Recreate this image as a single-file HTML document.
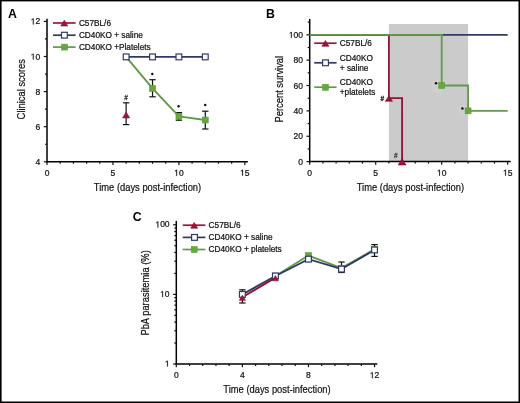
<!DOCTYPE html>
<html><head><meta charset="utf-8"><style>
html,body{margin:0;padding:0;background:#000;}
svg{display:block;}
text{font-family:"Liberation Sans",sans-serif;}
</style></head><body>
<svg style="will-change:transform" width="520" height="403" viewBox="0 0 520 403">
<rect x="0" y="0" width="520" height="403" fill="#000"/>
<rect x="1.6" y="1.4" width="516.9" height="400.1" fill="#fff"/>
<text x="8.1" y="18.1" font-size="12.3" font-weight="bold" fill="#000">A</text>
<line x1="47.00" y1="18.80" x2="47.00" y2="162.50" stroke="#000" stroke-width="1.5" stroke-linecap="butt"/>
<line x1="46.30" y1="161.80" x2="247.85" y2="161.80" stroke="#000" stroke-width="1.5" stroke-linecap="butt"/>
<line x1="43.80" y1="161.80" x2="47.00" y2="161.80" stroke="#111" stroke-width="1.2" stroke-linecap="butt"/>
<line x1="45.00" y1="144.25" x2="47.00" y2="144.25" stroke="#111" stroke-width="1.2" stroke-linecap="butt"/>
<line x1="43.80" y1="126.70" x2="47.00" y2="126.70" stroke="#111" stroke-width="1.2" stroke-linecap="butt"/>
<line x1="45.00" y1="109.15" x2="47.00" y2="109.15" stroke="#111" stroke-width="1.2" stroke-linecap="butt"/>
<line x1="43.80" y1="91.60" x2="47.00" y2="91.60" stroke="#111" stroke-width="1.2" stroke-linecap="butt"/>
<line x1="45.00" y1="74.05" x2="47.00" y2="74.05" stroke="#111" stroke-width="1.2" stroke-linecap="butt"/>
<line x1="43.80" y1="56.50" x2="47.00" y2="56.50" stroke="#111" stroke-width="1.2" stroke-linecap="butt"/>
<line x1="45.00" y1="38.95" x2="47.00" y2="38.95" stroke="#111" stroke-width="1.2" stroke-linecap="butt"/>
<line x1="43.80" y1="21.40" x2="47.00" y2="21.40" stroke="#111" stroke-width="1.2" stroke-linecap="butt"/>
<text x="35.473" y="164.80" font-size="8.5" fill="#111" stroke="#111" stroke-width="0.22">4</text>
<text x="35.473" y="129.70" font-size="8.5" fill="#111" stroke="#111" stroke-width="0.22">6</text>
<text x="35.473" y="94.60" font-size="8.5" fill="#111" stroke="#111" stroke-width="0.22">8</text>
<path d="M515 0L515 1237L197 1010L197 1180L530 1409L696 1409L696 0Z" transform="translate(30.745,59.500) scale(0.004150,-0.004150)" fill="#111" stroke="#111" stroke-width="53.0"/>
<text x="35.473" y="59.50" font-size="8.5" fill="#111" stroke="#111" stroke-width="0.22">0</text>
<path d="M515 0L515 1237L197 1010L197 1180L530 1409L696 1409L696 0Z" transform="translate(30.745,24.400) scale(0.004150,-0.004150)" fill="#111" stroke="#111" stroke-width="53.0"/>
<text x="35.473" y="24.40" font-size="8.5" fill="#111" stroke="#111" stroke-width="0.22">2</text>
<line x1="47.00" y1="161.80" x2="47.00" y2="165.00" stroke="#111" stroke-width="1.2" stroke-linecap="butt"/>
<line x1="60.19" y1="161.80" x2="60.19" y2="163.80" stroke="#111" stroke-width="1.2" stroke-linecap="butt"/>
<line x1="73.38" y1="161.80" x2="73.38" y2="163.80" stroke="#111" stroke-width="1.2" stroke-linecap="butt"/>
<line x1="86.57" y1="161.80" x2="86.57" y2="163.80" stroke="#111" stroke-width="1.2" stroke-linecap="butt"/>
<line x1="99.76" y1="161.80" x2="99.76" y2="163.80" stroke="#111" stroke-width="1.2" stroke-linecap="butt"/>
<line x1="112.95" y1="161.80" x2="112.95" y2="165.00" stroke="#111" stroke-width="1.2" stroke-linecap="butt"/>
<line x1="126.14" y1="161.80" x2="126.14" y2="163.80" stroke="#111" stroke-width="1.2" stroke-linecap="butt"/>
<line x1="139.33" y1="161.80" x2="139.33" y2="163.80" stroke="#111" stroke-width="1.2" stroke-linecap="butt"/>
<line x1="152.52" y1="161.80" x2="152.52" y2="163.80" stroke="#111" stroke-width="1.2" stroke-linecap="butt"/>
<line x1="165.71" y1="161.80" x2="165.71" y2="163.80" stroke="#111" stroke-width="1.2" stroke-linecap="butt"/>
<line x1="178.90" y1="161.80" x2="178.90" y2="165.00" stroke="#111" stroke-width="1.2" stroke-linecap="butt"/>
<line x1="192.09" y1="161.80" x2="192.09" y2="163.80" stroke="#111" stroke-width="1.2" stroke-linecap="butt"/>
<line x1="205.28" y1="161.80" x2="205.28" y2="163.80" stroke="#111" stroke-width="1.2" stroke-linecap="butt"/>
<line x1="218.47" y1="161.80" x2="218.47" y2="163.80" stroke="#111" stroke-width="1.2" stroke-linecap="butt"/>
<line x1="231.66" y1="161.80" x2="231.66" y2="163.80" stroke="#111" stroke-width="1.2" stroke-linecap="butt"/>
<line x1="244.85" y1="161.80" x2="244.85" y2="165.00" stroke="#111" stroke-width="1.2" stroke-linecap="butt"/>
<text x="44.636" y="175.70" font-size="8.5" fill="#111" stroke="#111" stroke-width="0.22">0</text>
<text x="110.586" y="175.70" font-size="8.5" fill="#111" stroke="#111" stroke-width="0.22">5</text>
<path d="M515 0L515 1237L197 1010L197 1180L530 1409L696 1409L696 0Z" transform="translate(174.173,175.700) scale(0.004150,-0.004150)" fill="#111" stroke="#111" stroke-width="53.0"/>
<text x="178.900" y="175.70" font-size="8.5" fill="#111" stroke="#111" stroke-width="0.22">0</text>
<path d="M515 0L515 1237L197 1010L197 1180L530 1409L696 1409L696 0Z" transform="translate(240.123,175.700) scale(0.004150,-0.004150)" fill="#111" stroke="#111" stroke-width="53.0"/>
<text x="244.850" y="175.70" font-size="8.5" fill="#111" stroke="#111" stroke-width="0.22">5</text>
<text transform="translate(147.50,190.60) scale(0.795,1)" x="0" y="0" font-size="11.8" text-anchor="middle" fill="#111" stroke="#111" stroke-width="0.22">Time (days post-infection)</text>
<text transform="translate(24.60,89.20) rotate(-90) scale(0.795,1)" x="0" y="0" font-size="11.8" text-anchor="middle" fill="#111" stroke="#111" stroke-width="0.22">Clinical scores</text>
<line x1="53.00" y1="23.00" x2="75.60" y2="23.00" stroke="#a3133a" stroke-width="1.7" stroke-linecap="butt"/>
<polygon points="60.80,26.00 67.80,26.00 64.30,20.20" fill="#a3133a" stroke="#7a0e2a" stroke-width="0.6"/>
<text x="78.90" y="25.50" font-size="8.25" text-anchor="start" fill="#111"  stroke="#111" stroke-width="0.22">C57BL/6</text>
<line x1="53.00" y1="35.20" x2="75.60" y2="35.20" stroke="#303a68" stroke-width="1.7" stroke-linecap="butt"/>
<rect x="61.50" y="32.30" width="5.80" height="5.80" fill="#fff" stroke="#303a68" stroke-width="1.2"/>
<text x="78.90" y="37.70" font-size="8.25" text-anchor="start" fill="#111"  stroke="#111" stroke-width="0.22">CD40KO + saline</text>
<line x1="53.00" y1="47.10" x2="75.60" y2="47.10" stroke="#62994a" stroke-width="1.7" stroke-linecap="butt"/>
<rect x="61.65" y="44.15" width="5.90" height="5.90" fill="#66a83e" stroke="#5a9a35" stroke-width="0.6"/>
<text x="78.90" y="49.60" font-size="8.25" text-anchor="start" fill="#111"  stroke="#111" stroke-width="0.22">CD40KO +Platelets</text>
<line x1="152.52" y1="79.70" x2="152.52" y2="96.80" stroke="#111" stroke-width="1.2" stroke-linecap="butt"/>
<line x1="149.32" y1="79.70" x2="155.72" y2="79.70" stroke="#111" stroke-width="1.2" stroke-linecap="butt"/>
<line x1="149.32" y1="96.80" x2="155.72" y2="96.80" stroke="#111" stroke-width="1.2" stroke-linecap="butt"/>
<line x1="178.90" y1="112.60" x2="178.90" y2="120.20" stroke="#111" stroke-width="1.2" stroke-linecap="butt"/>
<line x1="175.70" y1="112.60" x2="182.10" y2="112.60" stroke="#111" stroke-width="1.2" stroke-linecap="butt"/>
<line x1="175.70" y1="120.20" x2="182.10" y2="120.20" stroke="#111" stroke-width="1.2" stroke-linecap="butt"/>
<line x1="205.28" y1="111.20" x2="205.28" y2="129.00" stroke="#111" stroke-width="1.2" stroke-linecap="butt"/>
<line x1="202.08" y1="111.20" x2="208.48" y2="111.20" stroke="#111" stroke-width="1.2" stroke-linecap="butt"/>
<line x1="202.08" y1="129.00" x2="208.48" y2="129.00" stroke="#111" stroke-width="1.2" stroke-linecap="butt"/>
<line x1="126.14" y1="102.80" x2="126.14" y2="124.60" stroke="#111" stroke-width="1.2" stroke-linecap="butt"/>
<line x1="122.94" y1="102.80" x2="129.34" y2="102.80" stroke="#111" stroke-width="1.2" stroke-linecap="butt"/>
<line x1="122.94" y1="124.60" x2="129.34" y2="124.60" stroke="#111" stroke-width="1.2" stroke-linecap="butt"/>
<polyline points="126.14,56.85 152.52,88.44 178.90,116.35 205.28,120.03" fill="none" stroke="#62994a" stroke-width="1.9" stroke-linejoin="miter"/>
<rect x="149.57" y="85.49" width="5.90" height="5.90" fill="#66a83e" stroke="#5a9a35" stroke-width="0.6"/>
<rect x="175.95" y="113.40" width="5.90" height="5.90" fill="#66a83e" stroke="#5a9a35" stroke-width="0.6"/>
<rect x="202.33" y="117.08" width="5.90" height="5.90" fill="#66a83e" stroke="#5a9a35" stroke-width="0.6"/>
<line x1="126.14" y1="56.90" x2="205.28" y2="56.90" stroke="#303a68" stroke-width="1.8" stroke-linecap="butt"/>
<rect x="123.24" y="54.00" width="5.80" height="5.80" fill="#fff" stroke="#303a68" stroke-width="1.2"/>
<rect x="149.62" y="54.00" width="5.80" height="5.80" fill="#fff" stroke="#303a68" stroke-width="1.2"/>
<rect x="176.00" y="54.00" width="5.80" height="5.80" fill="#fff" stroke="#303a68" stroke-width="1.2"/>
<rect x="202.38" y="54.00" width="5.80" height="5.80" fill="#fff" stroke="#303a68" stroke-width="1.2"/>
<polygon points="122.64,117.90 129.64,117.90 126.14,112.10" fill="#a3133a" stroke="#7a0e2a" stroke-width="0.6"/>
<text x="126.14" y="100.20" font-size="6.5" text-anchor="middle" fill="#333" stroke="#333" stroke-width="0.3">#</text>
<circle cx="152.3" cy="73.9" r="1.25" fill="#111"/>
<circle cx="178.6" cy="106.2" r="1.25" fill="#111"/>
<circle cx="205.2" cy="105.0" r="1.25" fill="#111"/>
<rect x="388.90" y="24" width="79.20" height="137.60" fill="#cbcbcb"/>
<text x="266.0" y="18.2" font-size="12.3" font-weight="bold" fill="#000">B</text>
<circle cx="437.5" cy="87" r="7" fill="#fff" opacity="0.07"/>
<circle cx="463" cy="110.5" r="6" fill="#fff" opacity="0.07"/>
<line x1="309.70" y1="18.90" x2="309.70" y2="162.30" stroke="#000" stroke-width="1.5" stroke-linecap="butt"/>
<line x1="309.00" y1="161.60" x2="510.70" y2="161.60" stroke="#000" stroke-width="1.5" stroke-linecap="butt"/>
<line x1="306.50" y1="161.60" x2="309.70" y2="161.60" stroke="#111" stroke-width="1.2" stroke-linecap="butt"/>
<line x1="307.70" y1="148.92" x2="309.70" y2="148.92" stroke="#111" stroke-width="1.2" stroke-linecap="butt"/>
<line x1="306.50" y1="136.24" x2="309.70" y2="136.24" stroke="#111" stroke-width="1.2" stroke-linecap="butt"/>
<line x1="307.70" y1="123.56" x2="309.70" y2="123.56" stroke="#111" stroke-width="1.2" stroke-linecap="butt"/>
<line x1="306.50" y1="110.88" x2="309.70" y2="110.88" stroke="#111" stroke-width="1.2" stroke-linecap="butt"/>
<line x1="307.70" y1="98.20" x2="309.70" y2="98.20" stroke="#111" stroke-width="1.2" stroke-linecap="butt"/>
<line x1="306.50" y1="85.52" x2="309.70" y2="85.52" stroke="#111" stroke-width="1.2" stroke-linecap="butt"/>
<line x1="307.70" y1="72.84" x2="309.70" y2="72.84" stroke="#111" stroke-width="1.2" stroke-linecap="butt"/>
<line x1="306.50" y1="60.16" x2="309.70" y2="60.16" stroke="#111" stroke-width="1.2" stroke-linecap="butt"/>
<line x1="307.70" y1="47.48" x2="309.70" y2="47.48" stroke="#111" stroke-width="1.2" stroke-linecap="butt"/>
<line x1="306.50" y1="34.80" x2="309.70" y2="34.80" stroke="#111" stroke-width="1.2" stroke-linecap="butt"/>
<line x1="307.70" y1="22.12" x2="309.70" y2="22.12" stroke="#111" stroke-width="1.2" stroke-linecap="butt"/>
<text x="298.273" y="164.60" font-size="8.5" fill="#111" stroke="#111" stroke-width="0.22">0</text>
<text x="293.545" y="139.24" font-size="8.5" fill="#111" stroke="#111" stroke-width="0.22">2</text>
<text x="298.273" y="139.24" font-size="8.5" fill="#111" stroke="#111" stroke-width="0.22">0</text>
<text x="293.545" y="113.88" font-size="8.5" fill="#111" stroke="#111" stroke-width="0.22">4</text>
<text x="298.273" y="113.88" font-size="8.5" fill="#111" stroke="#111" stroke-width="0.22">0</text>
<text x="293.545" y="88.52" font-size="8.5" fill="#111" stroke="#111" stroke-width="0.22">6</text>
<text x="298.273" y="88.52" font-size="8.5" fill="#111" stroke="#111" stroke-width="0.22">0</text>
<text x="293.545" y="63.16" font-size="8.5" fill="#111" stroke="#111" stroke-width="0.22">8</text>
<text x="298.273" y="63.16" font-size="8.5" fill="#111" stroke="#111" stroke-width="0.22">0</text>
<path d="M515 0L515 1237L197 1010L197 1180L530 1409L696 1409L696 0Z" transform="translate(288.818,37.800) scale(0.004150,-0.004150)" fill="#111" stroke="#111" stroke-width="53.0"/>
<text x="293.545" y="37.80" font-size="8.5" fill="#111" stroke="#111" stroke-width="0.22">0</text>
<text x="298.273" y="37.80" font-size="8.5" fill="#111" stroke="#111" stroke-width="0.22">0</text>
<line x1="309.70" y1="161.60" x2="309.70" y2="164.80" stroke="#111" stroke-width="1.2" stroke-linecap="butt"/>
<line x1="322.90" y1="161.60" x2="322.90" y2="163.60" stroke="#111" stroke-width="1.2" stroke-linecap="butt"/>
<line x1="336.10" y1="161.60" x2="336.10" y2="163.60" stroke="#111" stroke-width="1.2" stroke-linecap="butt"/>
<line x1="349.30" y1="161.60" x2="349.30" y2="163.60" stroke="#111" stroke-width="1.2" stroke-linecap="butt"/>
<line x1="362.50" y1="161.60" x2="362.50" y2="163.60" stroke="#111" stroke-width="1.2" stroke-linecap="butt"/>
<line x1="375.70" y1="161.60" x2="375.70" y2="164.80" stroke="#111" stroke-width="1.2" stroke-linecap="butt"/>
<line x1="388.90" y1="161.60" x2="388.90" y2="163.60" stroke="#111" stroke-width="1.2" stroke-linecap="butt"/>
<line x1="402.10" y1="161.60" x2="402.10" y2="163.60" stroke="#111" stroke-width="1.2" stroke-linecap="butt"/>
<line x1="415.30" y1="161.60" x2="415.30" y2="163.60" stroke="#111" stroke-width="1.2" stroke-linecap="butt"/>
<line x1="428.50" y1="161.60" x2="428.50" y2="163.60" stroke="#111" stroke-width="1.2" stroke-linecap="butt"/>
<line x1="441.70" y1="161.60" x2="441.70" y2="164.80" stroke="#111" stroke-width="1.2" stroke-linecap="butt"/>
<line x1="454.90" y1="161.60" x2="454.90" y2="163.60" stroke="#111" stroke-width="1.2" stroke-linecap="butt"/>
<line x1="468.10" y1="161.60" x2="468.10" y2="163.60" stroke="#111" stroke-width="1.2" stroke-linecap="butt"/>
<line x1="481.30" y1="161.60" x2="481.30" y2="163.60" stroke="#111" stroke-width="1.2" stroke-linecap="butt"/>
<line x1="494.50" y1="161.60" x2="494.50" y2="163.60" stroke="#111" stroke-width="1.2" stroke-linecap="butt"/>
<line x1="507.70" y1="161.60" x2="507.70" y2="164.80" stroke="#111" stroke-width="1.2" stroke-linecap="butt"/>
<text x="307.336" y="175.70" font-size="8.5" fill="#111" stroke="#111" stroke-width="0.22">0</text>
<text x="373.336" y="175.70" font-size="8.5" fill="#111" stroke="#111" stroke-width="0.22">5</text>
<path d="M515 0L515 1237L197 1010L197 1180L530 1409L696 1409L696 0Z" transform="translate(436.973,175.700) scale(0.004150,-0.004150)" fill="#111" stroke="#111" stroke-width="53.0"/>
<text x="441.700" y="175.70" font-size="8.5" fill="#111" stroke="#111" stroke-width="0.22">0</text>
<path d="M515 0L515 1237L197 1010L197 1180L530 1409L696 1409L696 0Z" transform="translate(502.973,175.700) scale(0.004150,-0.004150)" fill="#111" stroke="#111" stroke-width="53.0"/>
<text x="507.700" y="175.70" font-size="8.5" fill="#111" stroke="#111" stroke-width="0.22">5</text>
<text transform="translate(410.40,190.60) scale(0.795,1)" x="0" y="0" font-size="11.8" text-anchor="middle" fill="#111" stroke="#111" stroke-width="0.22">Time (days post-infection)</text>
<text transform="translate(282.90,89.20) rotate(-90) scale(0.795,1)" x="0" y="0" font-size="11.8" text-anchor="middle" fill="#111" stroke="#111" stroke-width="0.22">Percent survival</text>
<line x1="309.70" y1="34.80" x2="507.70" y2="34.80" stroke="#303a68" stroke-width="1.8" stroke-linecap="butt"/>
<polyline points="309.70,34.80 388.90,34.80 388.90,98.20 402.10,98.20 402.10,161.60" fill="none" stroke="#931236" stroke-width="1.8" stroke-linejoin="miter"/>
<polyline points="309.70,34.80 441.70,34.80 441.70,85.52 468.10,85.52 468.10,110.88 507.70,110.88" fill="none" stroke="#62994a" stroke-width="1.8" stroke-linejoin="miter"/>
<polygon points="385.30,101.30 392.50,101.30 388.90,95.90" fill="#a3133a" stroke="#7a0e2a" stroke-width="0.6"/>
<polygon points="398.20,165.00 406.00,165.00 402.10,158.60" fill="#a3133a" stroke="#7a0e2a" stroke-width="0.6"/>
<rect x="438.75" y="82.57" width="5.90" height="5.90" fill="#66a83e" stroke="#5a9a35" stroke-width="0.6"/>
<rect x="465.15" y="107.93" width="5.90" height="5.90" fill="#66a83e" stroke="#5a9a35" stroke-width="0.6"/>
<text x="382.40" y="100.90" font-size="6.5" text-anchor="middle" fill="#222" stroke="#222" stroke-width="0.3">#</text>
<text x="395.90" y="158.40" font-size="6.5" text-anchor="middle" fill="#444" stroke="#444" stroke-width="0.3">#</text>
<circle cx="436.0" cy="83.2" r="1.25" fill="#111"/>
<circle cx="462.4" cy="108.6" r="1.25" fill="#111"/>
<line x1="314.20" y1="43.20" x2="336.60" y2="43.20" stroke="#a3133a" stroke-width="1.7" stroke-linecap="butt"/>
<polygon points="321.90,46.30 328.90,46.30 325.40,40.50" fill="#a3133a" stroke="#7a0e2a" stroke-width="0.6"/>
<text x="339.80" y="46.10" font-size="8.25" text-anchor="start" fill="#111"  stroke="#111" stroke-width="0.22">C57BL/6</text>
<line x1="314.20" y1="62.80" x2="336.60" y2="62.80" stroke="#303a68" stroke-width="1.7" stroke-linecap="butt"/>
<rect x="322.60" y="59.90" width="5.80" height="5.80" fill="#fff" stroke="#303a68" stroke-width="1.2"/>
<text x="339.80" y="60.90" font-size="8.25" text-anchor="start" fill="#111"  stroke="#111" stroke-width="0.22">CD40KO</text>
<text x="339.80" y="70.50" font-size="8.25" text-anchor="start" fill="#111"  stroke="#111" stroke-width="0.22">+ saline</text>
<line x1="314.20" y1="87.20" x2="336.60" y2="87.20" stroke="#62994a" stroke-width="1.7" stroke-linecap="butt"/>
<rect x="322.55" y="84.35" width="5.90" height="5.90" fill="#66a83e" stroke="#5a9a35" stroke-width="0.6"/>
<text x="339.80" y="85.30" font-size="8.25" text-anchor="start" fill="#111"  stroke="#111" stroke-width="0.22">CD40KO</text>
<text x="339.80" y="94.90" font-size="8.25" text-anchor="start" fill="#111"  stroke="#111" stroke-width="0.22">+platelets</text>
<text x="132.7" y="221.1" font-size="12.3" font-weight="bold" fill="#000">C</text>
<line x1="176.30" y1="220.90" x2="176.30" y2="364.70" stroke="#000" stroke-width="1.5" stroke-linecap="butt"/>
<line x1="175.60" y1="364.00" x2="377.34" y2="364.00" stroke="#000" stroke-width="1.5" stroke-linecap="butt"/>
<line x1="173.10" y1="364.00" x2="176.30" y2="364.00" stroke="#111" stroke-width="1.2" stroke-linecap="butt"/>
<line x1="174.30" y1="343.05" x2="176.30" y2="343.05" stroke="#111" stroke-width="1.2" stroke-linecap="butt"/>
<line x1="174.30" y1="330.79" x2="176.30" y2="330.79" stroke="#111" stroke-width="1.2" stroke-linecap="butt"/>
<line x1="174.30" y1="322.10" x2="176.30" y2="322.10" stroke="#111" stroke-width="1.2" stroke-linecap="butt"/>
<line x1="174.30" y1="315.35" x2="176.30" y2="315.35" stroke="#111" stroke-width="1.2" stroke-linecap="butt"/>
<line x1="174.30" y1="309.84" x2="176.30" y2="309.84" stroke="#111" stroke-width="1.2" stroke-linecap="butt"/>
<line x1="174.30" y1="305.18" x2="176.30" y2="305.18" stroke="#111" stroke-width="1.2" stroke-linecap="butt"/>
<line x1="174.30" y1="301.14" x2="176.30" y2="301.14" stroke="#111" stroke-width="1.2" stroke-linecap="butt"/>
<line x1="174.30" y1="297.58" x2="176.30" y2="297.58" stroke="#111" stroke-width="1.2" stroke-linecap="butt"/>
<line x1="173.10" y1="294.40" x2="176.30" y2="294.40" stroke="#111" stroke-width="1.2" stroke-linecap="butt"/>
<line x1="174.30" y1="273.45" x2="176.30" y2="273.45" stroke="#111" stroke-width="1.2" stroke-linecap="butt"/>
<line x1="174.30" y1="261.19" x2="176.30" y2="261.19" stroke="#111" stroke-width="1.2" stroke-linecap="butt"/>
<line x1="174.30" y1="252.50" x2="176.30" y2="252.50" stroke="#111" stroke-width="1.2" stroke-linecap="butt"/>
<line x1="174.30" y1="245.75" x2="176.30" y2="245.75" stroke="#111" stroke-width="1.2" stroke-linecap="butt"/>
<line x1="174.30" y1="240.24" x2="176.30" y2="240.24" stroke="#111" stroke-width="1.2" stroke-linecap="butt"/>
<line x1="174.30" y1="235.58" x2="176.30" y2="235.58" stroke="#111" stroke-width="1.2" stroke-linecap="butt"/>
<line x1="174.30" y1="231.54" x2="176.30" y2="231.54" stroke="#111" stroke-width="1.2" stroke-linecap="butt"/>
<line x1="174.30" y1="227.98" x2="176.30" y2="227.98" stroke="#111" stroke-width="1.2" stroke-linecap="butt"/>
<line x1="173.10" y1="224.80" x2="176.30" y2="224.80" stroke="#111" stroke-width="1.2" stroke-linecap="butt"/>
<path d="M515 0L515 1237L197 1010L197 1180L530 1409L696 1409L696 0Z" transform="translate(164.873,366.600) scale(0.004150,-0.004150)" fill="#111" stroke="#111" stroke-width="53.0"/>
<path d="M515 0L515 1237L197 1010L197 1180L530 1409L696 1409L696 0Z" transform="translate(160.145,297.000) scale(0.004150,-0.004150)" fill="#111" stroke="#111" stroke-width="53.0"/>
<text x="164.873" y="297.00" font-size="8.5" fill="#111" stroke="#111" stroke-width="0.22">0</text>
<path d="M515 0L515 1237L197 1010L197 1180L530 1409L696 1409L696 0Z" transform="translate(155.418,227.400) scale(0.004150,-0.004150)" fill="#111" stroke="#111" stroke-width="53.0"/>
<text x="160.145" y="227.40" font-size="8.5" fill="#111" stroke="#111" stroke-width="0.22">0</text>
<text x="164.873" y="227.40" font-size="8.5" fill="#111" stroke="#111" stroke-width="0.22">0</text>
<line x1="176.30" y1="364.00" x2="176.30" y2="367.20" stroke="#111" stroke-width="1.2" stroke-linecap="butt"/>
<line x1="189.52" y1="364.00" x2="189.52" y2="366.00" stroke="#111" stroke-width="1.2" stroke-linecap="butt"/>
<line x1="202.73" y1="364.00" x2="202.73" y2="366.00" stroke="#111" stroke-width="1.2" stroke-linecap="butt"/>
<line x1="215.95" y1="364.00" x2="215.95" y2="366.00" stroke="#111" stroke-width="1.2" stroke-linecap="butt"/>
<line x1="229.16" y1="364.00" x2="229.16" y2="366.00" stroke="#111" stroke-width="1.2" stroke-linecap="butt"/>
<line x1="242.38" y1="364.00" x2="242.38" y2="367.20" stroke="#111" stroke-width="1.2" stroke-linecap="butt"/>
<line x1="255.60" y1="364.00" x2="255.60" y2="366.00" stroke="#111" stroke-width="1.2" stroke-linecap="butt"/>
<line x1="268.81" y1="364.00" x2="268.81" y2="366.00" stroke="#111" stroke-width="1.2" stroke-linecap="butt"/>
<line x1="282.03" y1="364.00" x2="282.03" y2="366.00" stroke="#111" stroke-width="1.2" stroke-linecap="butt"/>
<line x1="295.24" y1="364.00" x2="295.24" y2="366.00" stroke="#111" stroke-width="1.2" stroke-linecap="butt"/>
<line x1="308.46" y1="364.00" x2="308.46" y2="367.20" stroke="#111" stroke-width="1.2" stroke-linecap="butt"/>
<line x1="321.68" y1="364.00" x2="321.68" y2="366.00" stroke="#111" stroke-width="1.2" stroke-linecap="butt"/>
<line x1="334.89" y1="364.00" x2="334.89" y2="366.00" stroke="#111" stroke-width="1.2" stroke-linecap="butt"/>
<line x1="348.11" y1="364.00" x2="348.11" y2="366.00" stroke="#111" stroke-width="1.2" stroke-linecap="butt"/>
<line x1="361.32" y1="364.00" x2="361.32" y2="366.00" stroke="#111" stroke-width="1.2" stroke-linecap="butt"/>
<line x1="374.54" y1="364.00" x2="374.54" y2="367.20" stroke="#111" stroke-width="1.2" stroke-linecap="butt"/>
<text x="173.936" y="378.20" font-size="8.5" fill="#111" stroke="#111" stroke-width="0.22">0</text>
<text x="240.016" y="378.20" font-size="8.5" fill="#111" stroke="#111" stroke-width="0.22">4</text>
<text x="306.096" y="378.20" font-size="8.5" fill="#111" stroke="#111" stroke-width="0.22">8</text>
<path d="M515 0L515 1237L197 1010L197 1180L530 1409L696 1409L696 0Z" transform="translate(369.813,378.200) scale(0.004150,-0.004150)" fill="#111" stroke="#111" stroke-width="53.0"/>
<text x="374.540" y="378.20" font-size="8.5" fill="#111" stroke="#111" stroke-width="0.22">2</text>
<text transform="translate(277.00,393.00) scale(0.795,1)" x="0" y="0" font-size="11.8" text-anchor="middle" fill="#111" stroke="#111" stroke-width="0.22">Time (days post-infection)</text>
<text transform="translate(148.90,292.90) rotate(-90) scale(0.795,1)" x="0" y="0" font-size="11.8" text-anchor="middle" fill="#111" stroke="#111" stroke-width="0.22">PbA parasitemia (%)</text>
<line x1="182.70" y1="225.20" x2="205.40" y2="225.20" stroke="#a3133a" stroke-width="1.7" stroke-linecap="butt"/>
<polygon points="190.70,228.20 197.70,228.20 194.20,222.40" fill="#a3133a" stroke="#7a0e2a" stroke-width="0.6"/>
<text x="208.60" y="228.10" font-size="8.25" text-anchor="start" fill="#111"  stroke="#111" stroke-width="0.22">C57BL/6</text>
<line x1="182.70" y1="237.40" x2="205.40" y2="237.40" stroke="#303a68" stroke-width="1.7" stroke-linecap="butt"/>
<rect x="191.60" y="234.50" width="5.80" height="5.80" fill="#fff" stroke="#303a68" stroke-width="1.2"/>
<text x="208.60" y="240.30" font-size="8.25" text-anchor="start" fill="#111"  stroke="#111" stroke-width="0.22">CD40KO + saline</text>
<line x1="182.70" y1="249.50" x2="205.40" y2="249.50" stroke="#62994a" stroke-width="1.7" stroke-linecap="butt"/>
<rect x="191.25" y="246.55" width="5.90" height="5.90" fill="#66a83e" stroke="#5a9a35" stroke-width="0.6"/>
<text x="208.60" y="252.40" font-size="8.25" text-anchor="start" fill="#111"  stroke="#111" stroke-width="0.22">CD40KO + platelets</text>
<line x1="242.38" y1="289.80" x2="242.38" y2="303.00" stroke="#111" stroke-width="1.2" stroke-linecap="butt"/>
<line x1="239.18" y1="289.80" x2="245.58" y2="289.80" stroke="#111" stroke-width="1.2" stroke-linecap="butt"/>
<line x1="239.18" y1="303.00" x2="245.58" y2="303.00" stroke="#111" stroke-width="1.2" stroke-linecap="butt"/>
<line x1="341.50" y1="262.00" x2="341.50" y2="272.50" stroke="#111" stroke-width="1.2" stroke-linecap="butt"/>
<line x1="338.30" y1="262.00" x2="344.70" y2="262.00" stroke="#111" stroke-width="1.2" stroke-linecap="butt"/>
<line x1="338.30" y1="272.50" x2="344.70" y2="272.50" stroke="#111" stroke-width="1.2" stroke-linecap="butt"/>
<line x1="374.54" y1="244.60" x2="374.54" y2="256.40" stroke="#111" stroke-width="1.2" stroke-linecap="butt"/>
<line x1="371.34" y1="244.60" x2="377.74" y2="244.60" stroke="#111" stroke-width="1.2" stroke-linecap="butt"/>
<line x1="371.34" y1="256.40" x2="377.74" y2="256.40" stroke="#111" stroke-width="1.2" stroke-linecap="butt"/>
<polyline points="275.42,275.97 308.46,255.51 341.50,268.19 374.54,249.27" fill="none" stroke="#62994a" stroke-width="1.9" stroke-linejoin="miter"/>
<rect x="272.47" y="273.02" width="5.90" height="5.90" fill="#66a83e" stroke="#5a9a35" stroke-width="0.6"/>
<rect x="305.51" y="252.56" width="5.90" height="5.90" fill="#66a83e" stroke="#5a9a35" stroke-width="0.6"/>
<rect x="338.55" y="265.24" width="5.90" height="5.90" fill="#66a83e" stroke="#5a9a35" stroke-width="0.6"/>
<rect x="371.59" y="246.32" width="5.90" height="5.90" fill="#66a83e" stroke="#5a9a35" stroke-width="0.6"/>
<polyline points="242.38,294.40 275.42,275.97 308.46,259.15 341.50,269.09 374.54,249.96" fill="none" stroke="#303a68" stroke-width="1.9" stroke-linejoin="miter"/>
<polyline points="242.38,297.25 275.42,277.66" fill="none" stroke="#931236" stroke-width="1.9" stroke-linejoin="miter"/>
<rect x="239.48" y="291.50" width="5.80" height="5.80" fill="#fff" stroke="#303a68" stroke-width="1.2"/>
<rect x="272.52" y="273.07" width="5.80" height="5.80" fill="#fff" stroke="#303a68" stroke-width="1.2"/>
<rect x="305.56" y="256.25" width="5.80" height="5.80" fill="#fff" stroke="#303a68" stroke-width="1.2"/>
<rect x="338.60" y="266.19" width="5.80" height="5.80" fill="#fff" stroke="#303a68" stroke-width="1.2"/>
<rect x="371.64" y="247.06" width="5.80" height="5.80" fill="#fff" stroke="#303a68" stroke-width="1.2"/>
<polygon points="239.28,300.35 245.48,300.35 242.38,295.15" fill="#a3133a" stroke="#7a0e2a" stroke-width="0.6"/>
<polygon points="272.32,280.76 278.52,280.76 275.42,275.56" fill="#a3133a" stroke="#7a0e2a" stroke-width="0.6"/>
</svg>
</body></html>
